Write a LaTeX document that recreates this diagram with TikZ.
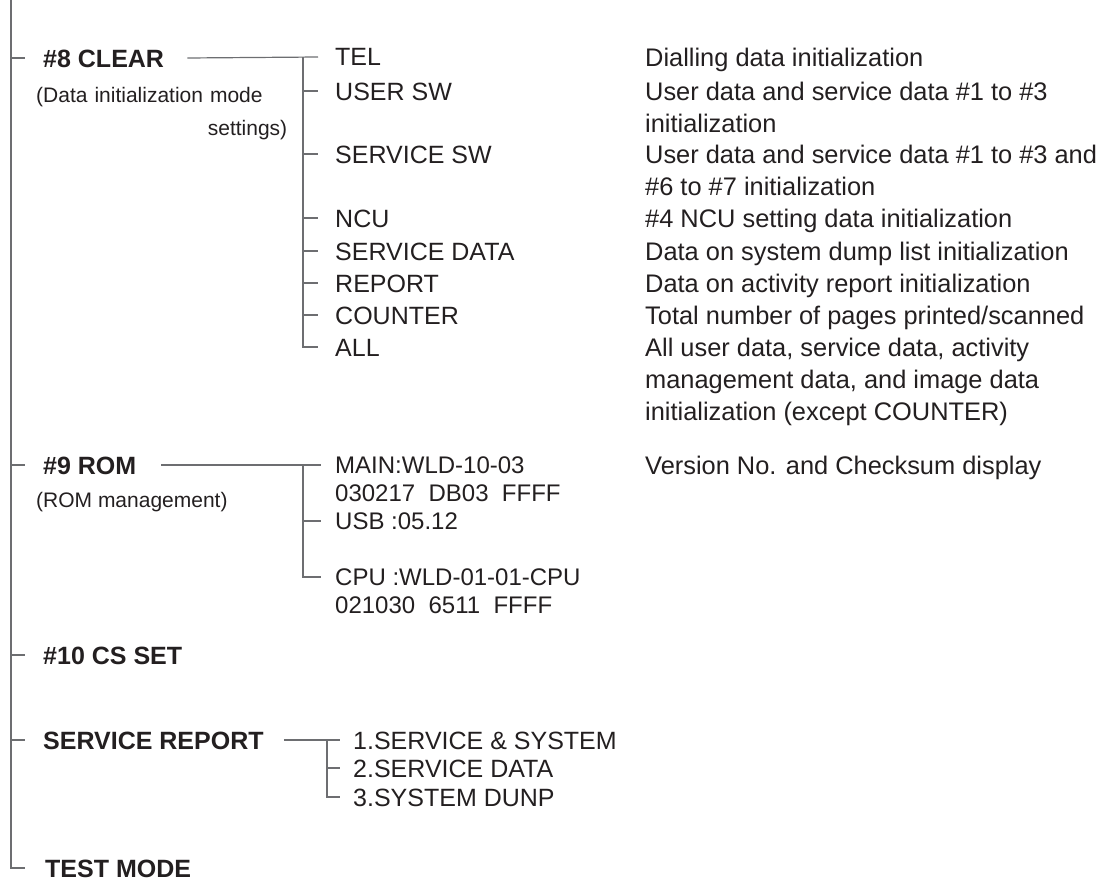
\documentclass[tikz,border=0pt]{standalone}
\usepackage{fontspec}
\setmainfont{Liberation Sans}
\usepackage{xcolor}
\usetikzlibrary{positioning}
\definecolor{ink}{HTML}{231F20}
\definecolor{linegray}{HTML}{6D6E71}
\tikzset{
  conn/.style={draw=linegray, line width=1.2pt},
  menuhead/.style={font=\fontsize{25}{30}\selectfont\bfseries, text=ink, inner sep=0pt, anchor=west, text height=18pt, text depth=0pt},
  menuitem/.style={font=\fontsize{25}{30}\selectfont, text=ink, inner sep=0pt, anchor=west, text height=18pt, text depth=0pt},
  subnote/.style={font=\fontsize{21}{33}\selectfont, text=ink, inner sep=0pt, anchor=north west, align=left, yshift=15.6pt},
  descr/.style={font=\fontsize{25.4}{32}\selectfont, text=ink, inner sep=0pt, anchor=north west, align=left, yshift=13.3pt},
  romline/.style={font=\fontsize{24}{28}\selectfont, text=ink, inner sep=0pt, anchor=north west, align=left, yshift=11pt}
}

\begin{document}
\begin{tikzpicture}[x=1pt, y=-1pt]
    \useasboundingbox (0,0) rectangle (1109,883);
    \coordinate (top) at (11,0);
    \coordinate (dcol) at (645,0);

    % Menu principal
    \node[menuhead] (clear) at (43,58) {\#8 CLEAR};
    \node[subnote, text width=251pt] (clearnote) at (36,95) {\strut(Data initialization mode\\\hspace*{\fill}settings)};
    \node[menuhead] (rom) at (43,465) {\#9 ROM};
    \node[subnote] (romnote) at (36,500) {\strut(ROM management)};
    \node[menuhead] (cs) at (43,655) {\#10 CS SET};
    \node[menuhead] (srep) at (43,740) {SERVICE REPORT};
    \node[menuhead] (test) at (45,868) {TEST MODE};

    % #8 CLEAR
    \node[menuitem] (tel) at (335,57) {TEL};
    \node[menuitem] (user) at (335,91) {USER SW};
    \node[menuitem] (servsw) at (335,154) {SERVICE SW};
    \node[menuitem] (ncu) at (335,218) {NCU};
    \node[menuitem] (servdata) at (335,251) {SERVICE DATA};
    \node[menuitem] (report) at (335,283) {REPORT};
    \node[menuitem] (counter) at (335,315) {COUNTER};
    \node[menuitem] (all) at (335,347) {ALL};

    \node[descr] (d-tel) at (dcol |- tel.west) {\strut Dialling data initialization};
    \node[descr] (d-user) at (dcol |- user.west) {\strut User data and service data \#1 to \#3\\initialization};
    \node[descr] (d-servsw) at (dcol |- servsw.west) {\strut User data and service data \#1 to \#3 and\\\#6 to \#7 initialization};
    \node[descr] (d-ncu) at (dcol |- ncu.west) {\strut\#4 NCU setting data initialization};
    \node[descr] (d-servdata) at (dcol |- servdata.west) {\strut Data on system dump list initialization};
    \node[descr] (d-report) at (dcol |- report.west) {\strut Data on activity report initialization};
    \node[descr] (d-counter) at (dcol |- counter.west) {\strut Total number of pages printed/scanned};
    \node[descr] (d-all) at (dcol |- all.west) {\strut All user data, service data, activity\\management data, and image data\\initialization (except COUNTER)};

    % #9 ROM
    \node[romline] (main) at (335,465) {\strut MAIN:WLD-10-03\\030217\ \ DB03\ \ FFFF};
    \node[romline] (usb) at (335,521) {\strut USB :05.12};
    \node[romline] (cpu) at (335,577) {\strut CPU :WLD-01-01-CPU\\021030\ \ 6511\ \ FFFF};
    \node[descr] (d-rom) at (dcol |- rom.west) {\strut Version No. and Checksum display};

    % SERVICE REPORT
    \node[menuitem] (sr1) at (353,740) {1.SERVICE \& SYSTEM};
    \node[menuitem] (sr2) at (353,768) {2.SERVICE DATA};
    \node[menuitem] (sr3) at (353,797) {3.SYSTEM DUNP};

    % Lineas
    \draw[conn] (top) |- ([xshift=-20pt]test.west);
    \foreach \n in {clear,rom,cs,srep}
        \draw[conn] (top |- \n.west) -- ([xshift=-18pt]\n.west);

    \draw[conn] ([xshift=23pt]clear.east) -- ([xshift=-17pt]tel.west);
    \draw[conn] ([xshift=-32pt]tel.west) |- ([xshift=-17pt]all.west);
    \foreach \n in {user,servsw,ncu,servdata,report,counter}
        \draw[conn] ([xshift=-32pt]\n.west) -- ([xshift=-17pt]\n.west);

    \draw[conn] ([xshift=25pt]rom.east) -- ([xshift=-14pt,yshift=-11pt]main.north west);
    \draw[conn] ([xshift=-32pt,yshift=-11pt]main.north west) |- ([xshift=-14pt,yshift=-11pt]cpu.north west);
    \draw[conn] ([xshift=-32pt,yshift=-11pt]usb.north west) -- ([xshift=-14pt,yshift=-11pt]usb.north west);

    \draw[conn] ([xshift=20pt]srep.east) -- ([xshift=-13pt]sr1.west);
    \draw[conn] ([xshift=-26pt]sr1.west) |- ([xshift=-13pt]sr3.west);
    \draw[conn] ([xshift=-26pt]sr2.west) -- ([xshift=-13pt]sr2.west);
\end{tikzpicture}
\end{document}
